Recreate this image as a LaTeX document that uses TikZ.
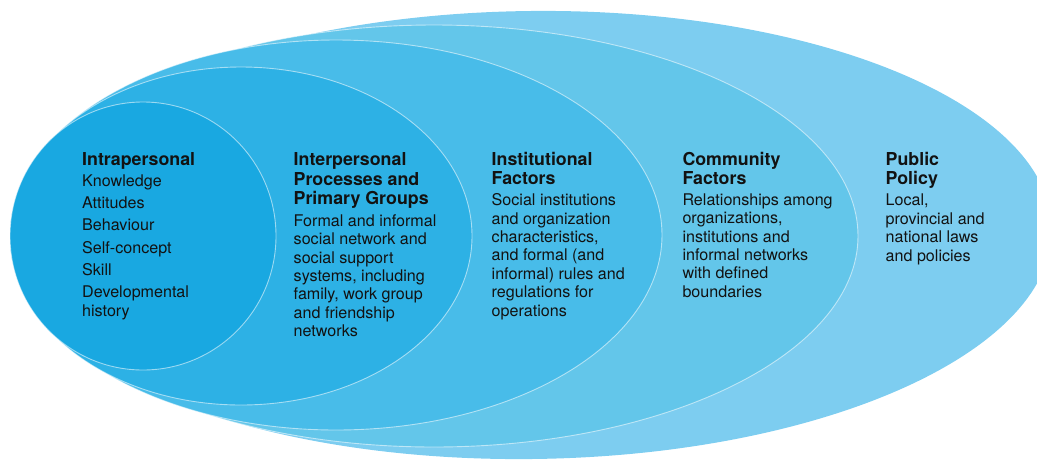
\documentclass[tikz,border=0pt]{standalone}
\usepackage{fontspec}
\setmainfont{TeX Gyre Heros}
\definecolor{lvA}{HTML}{19A8E1}
\definecolor{lvB}{HTML}{2DB1E5}
\definecolor{lvC}{HTML}{48BCE9}
\definecolor{lvD}{HTML}{63C6EA}
\definecolor{lvE}{HTML}{7DCDF0}
\definecolor{txt}{HTML}{121212}
\begin{document}
\begin{tikzpicture}[x=1pt,y=-1pt,
  ring/.style={draw=white, draw opacity=0.55, line width=0.9pt},
  % multi-line nodes are placed by the baseline of their last line
  head/.style={anchor=base west, inner sep=0pt, align=left, text=txt,
    font=\fontsize{17.8}{19.2}\selectfont\bfseries},
  body/.style={anchor=base west, inner sep=0pt, align=left, text=txt,
    font=\fontsize{16.1}{18.4}\selectfont}]
\useasboundingbox (0,0) rectangle (1037,459);
\clip (0,0) rectangle (1037,459);

% nested levels, outermost first
\path[fill=lvE, rotate around={0.7:(531,235)}] (531,235) ellipse [x radius=521, y radius=224];
\path[fill=lvD, ring] (434,236) ellipse [x radius=424, y radius=211];
\path[fill=lvC, ring] (336,235) ellipse [x radius=326, y radius=195];
\path[fill=lvB, ring] (241,236) ellipse [x radius=231, y radius=169];
\path[fill=lvA, ring] (143,236) ellipse [x radius=133, y radius=134];

% level 1
\node[head] (t1) at (82,165.3) {Intrapersonal};
\node[body] (b1) at (82,316) {Knowledge\\[3.9pt]Attitudes\\[3.9pt]Behaviour\\[3.9pt]Self-concept\\[3.9pt]Skill\\[3.9pt]Developmental\\history};

% level 2
\node[head] (t2) at (293.5,204.3) {Interpersonal\\Processes and\\Primary Groups};
\node[body] (b2) at (293.5,336.7) {Formal and informal\\social network and\\social support\\systems, including\\family, work group\\and friendship\\networks};

% level 3
\node[head] (t3) at (491.5,184.3) {Institutional\\Factors};
\node[body] (b3) at (491.5,316) {Social institutions\\and organization\\characteristics,\\and formal (and\\informal) rules and\\regulations for\\operations};

% level 4
\node[head] (t4) at (682.3,184.3) {Community\\Factors};
\node[body] (b4) at (682.3,297.3) {Relationships among\\organizations,\\institutions and\\informal networks\\with defined\\boundaries};

% level 5
\node[head] (t5) at (885.5,184.3) {Public\\Policy};
\node[body] (b5) at (885.5,261) {Local,\\provincial and\\national laws\\and policies};
\end{tikzpicture}
\end{document}
